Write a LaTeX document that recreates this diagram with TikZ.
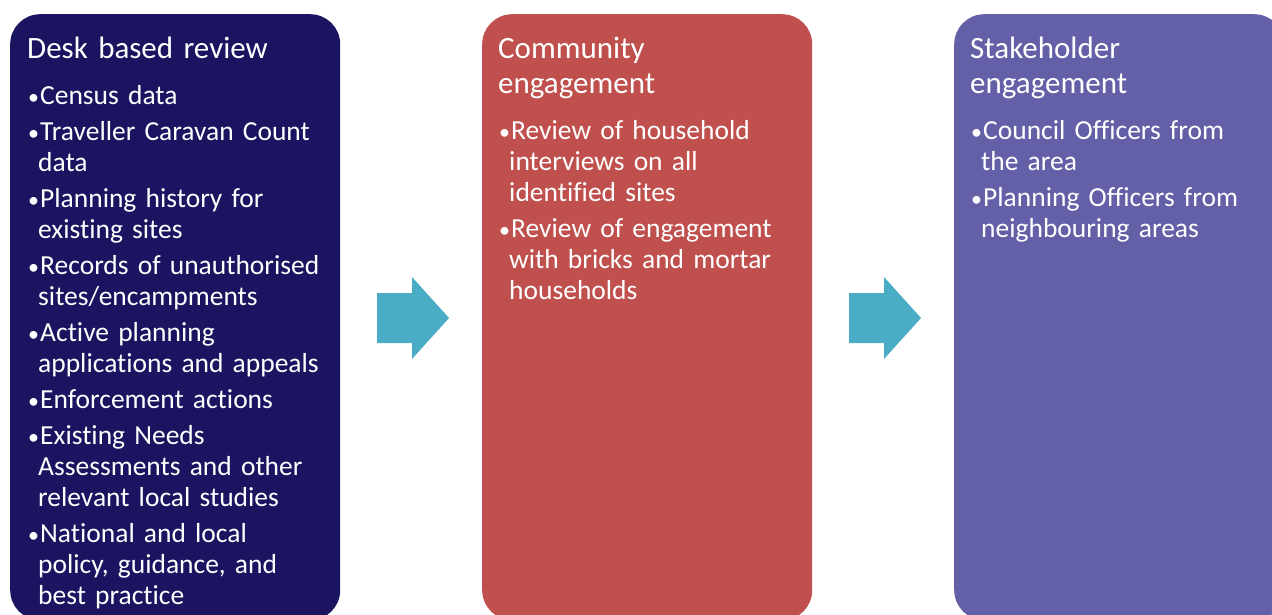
\documentclass[tikz,border=0pt]{standalone}
\usepackage{fontspec}
\setmainfont{Carlito}[Ligatures=NoCommon]
\usetikzlibrary{positioning}

\definecolor{deskblue}{RGB}{27,20,96}
\definecolor{commred}{RGB}{192,80,77}
\definecolor{stakepurple}{RGB}{100,96,168}
\definecolor{arrowteal}{RGB}{75,172,198}

\newcommand{\bul}[1]{\par\noindent\hangindent=11pt\hangafter=1\makebox[13pt][l]{\kern1pt\scalebox{0.8}{\textbullet}}#1\par}

\tikzset{
  panel/.style={rounded corners=30pt, minimum width=330pt, minimum height=606pt, inner sep=0pt, anchor=north west},
  headtext/.style={anchor=north west, inner sep=0pt, text=white, text width=300pt, align=left,
    font=\fontsize{31}{35}\selectfont},
  itemtext/.style={anchor=north west, inner sep=0pt, text=white, text width=310pt, align=left,
    font=\fontsize{27.5}{31}\selectfont\setlength{\parskip}{5pt}},
  blockarrow/.style={fill=arrowteal},
}

\begin{document}
\begin{tikzpicture}[x=1pt, y=-1pt]
  \useasboundingbox (0,0) rectangle (1272,615);
  \clip (0,0) rectangle (1272,615);

  \node[panel, fill=deskblue](Desk) at (10,14) {};
  \node[panel, fill=commred](Comm) at (482,14) {};
  \node[panel, fill=stakepurple](Stake) at (954,14) {};

  \node[headtext](DeskHead) at (27,37) {Desk based review};
  \node[itemtext](DeskList) at (27,68) {%
    \bul{Census data}
    \bul{Traveller Caravan Count\newline data}
    \bul{Planning history for\newline existing sites}
    \bul{Records of unauthorised\newline sites/encampments}
    \bul{Active planning\newline applications and appeals}
    \bul{Enforcement actions}
    \bul{Existing Needs\newline Assessments and other\newline relevant local studies}
    \bul{National and local\newline policy, guidance, and\newline best practice}};

  \node[headtext](CommHead) at (498,37) {Community\\engagement};
  \node[itemtext](CommList) at (498,103) {%
    \bul{Review of household\newline interviews on all\newline identified sites}
    \bul{Review of engagement\newline with bricks and mortar\newline households}};

  \node[headtext](StakeHead) at (970,37) {Stakeholder\\engagement};
  \node[itemtext](StakeList) at (970,103) {%
    \bul{Council Officers from\newline the area}
    \bul{Planning Officers from\newline neighbouring areas}};

  \fill[blockarrow] (377,293) -- (412,293) -- (412,277) -- (449,318) -- (412,359) -- (412,343) -- (377,343) -- cycle;
  \fill[blockarrow] (849,293) -- (884,293) -- (884,277) -- (921,318) -- (884,359) -- (884,343) -- (849,343) -- cycle;
\end{tikzpicture}
\end{document}
